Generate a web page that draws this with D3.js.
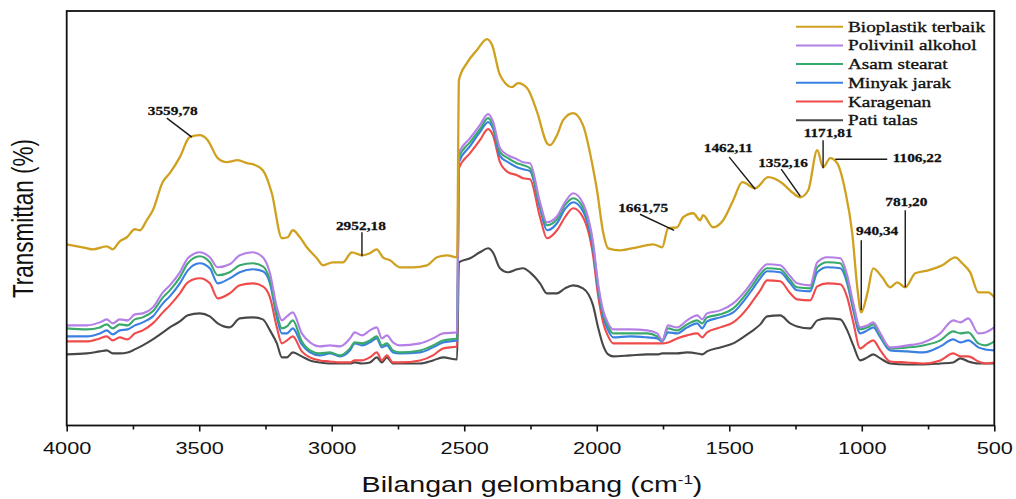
<!DOCTYPE html>
<html lang="id">
<head>
<meta charset="utf-8">
<title>FTIR bioplastik</title>
<script src="https://cdn.jsdelivr.net/npm/d3@7"></script>
<style>
  body { margin: 0; background: #fff; }
  svg { display: block; }
</style>
</head>
<body>
<script>

// wavenumber grid (cm-1) shared by the five lower spectra
var wavenumbers = [4000,3924,3875,3849,3826,3800,3770,3743,3713,3675, 3637,3611,3573,3543,3498,3460,3430,3385,3347,3298,
  3260,3233,3207,3188,3169,3147,3113,3082,3045,3007, 2969,2931,2913,2886,2856,2830,2811,2792,2769,2743,
  2667,2618,2580,2527, 2520,2478,2441,2410,2392,2365, 2335,2301,2278,2252,2214,2188,2150,2120,2089,2052,
  2014,1995,1976,1957,1938,1874,1810,1772,1753,1731, 1697,1659,1621,1602,1584,1534,1485,1432,1410,1383,
  1357,1308,1270,1244,1195,1168,1130,1081,1055,1032, 1006,979,957,930,893,828,768,704,655,628, 598,560,534,500];

var polivinilAlkohol = [25,25,25.75,26.5,25.5,26.5,26.25,27.75,28,29.5, 33.25,35,38.25,41.75,43.25,42,39.5,40.25,42.5,43.25,
  42,38,29.5,26.25,27.25,28.25,23,20.75,19.75,20, 19.75,21.75,23.25,22.5,23.75,24.5,21.75,22.5,20.75,20,
  20.5,21.75,23,23.25, 68,71.75,75,77.75,76,69.25, 67.5,66.5,65.75,65.5,55.75,50.75,52.25,55.75,58,55.5,
  45.75,35.5,28.75,25.5,24,24,23.75,23,21.25,25, 24.5,26.25,27.5,26.5,28,28.75,30.5,34.25,36.25,38.75,
  40.25,40,37.25,35.5,35,40.75,42,41.75,37.5,30.5, 24.5,25,25.75,23,19.5,20,20.75,23,26.25,25.75, 26.75,23,23.25,24.5];

var asamStearat = [24.25,24,24.5,25.25,24.25,25.25,25,26.5,27,28.5, 32,33.75,37,40.5,42.25,40.75,37.5,38.25,40,40.5,
  39.75,36.25,28,24.25,24.75,26.25,21,18.75,18,18.25, 17.5,19.25,20.75,20.5,21.25,22.25,20,20.5,18.75,18.25,
  18.75,20,21.25,21.75, 67,70.75,74,76.75,75,68.25, 66.75,65.5,65,64.25,55,50,51.5,55,56.75,54.5,
  45,34.75,28,24.75,23,23,23,22.25,21.25,24.25, 23.75,25.25,26.25,25.5,27,27.75,29.25,33.25,35.25,37.75,
  39.25,39,36.25,34.5,34.25,39.5,40.75,40.5,36.25,29.75, 24,24.5,25.25,22.5,19.25,19.5,20,21.25,23.5,23, 23.25,20.5,20,21];

var minyakJarak = [22.25,22.25,23,23.75,22.75,23.75,24,25,25.75,27.25, 30.5,32.25,35.5,38.75,40.5,39.25,35.5,36.75,38.25,39,
  38.5,35.5,27,23,23,24.25,20.25,18.25,17.5,18, 17.25,18.75,20.5,20,20.75,21.75,19.5,20,18.25,18,
  18.25,19.5,20.75,21.25, 65.75,69.75,73.25,75.75,74.25,67.25, 65.75,64.5,64,63.5,54.25,48.75,50.5,54,55.75,53.5,
  44,34,27.25,23.75,22,22.25,22,21.75,21,23.25, 23,24.5,25.5,24.25,26,27,28.25,32.25,34.25,36.75,
  38.5,38.25,35.5,33.75,33.5,38.25,39.5,39.25,35.5,28.75, 23,23.75,24.5,22,18.75,18.5,18.25,19.75,21.5,20.75, 21.25,19.5,19,18.75];

var karagenan = [21,21,21.75,22.25,21.25,22,21.5,23,23.75,25.5, 28.25,30,33,35.75,36.75,35.5,31.75,33,35,35.5,
  34.75,32,24.5,20.5,21.25,22.25,18.5,17,16.25,16, 15.75,15.75,16.25,16.25,17,18.25,16.25,17.5,15.75,15.75,
  16.25,17.5,19.25,19.75, 64.25,68,71.25,74,72.5,65.75, 63.25,62.5,61.75,61.5,52,46.75,48.75,52,54.25,52,
  42.5,32.5,25.75,22.25,20.5,20.5,20.5,20.5,20.5,20.75, 21.75,22.5,23,22,23.25,24.5,25.75,29.25,31.25,33.75,
  36.25,36,33,31.5,31.25,34.75,35.5,35.25,32,25.75, 19.25,20.5,21.25,18.75,16,15.75,15.5,16.25,18,17.25, 17.25,16,15.5,15.75];

var patiTalas = [17.75,18,18.5,18.75,18,18,18.25,19,20,21.5, 23.25,24.5,26,27.5,28,27.25,25.5,24.5,26.75,27,
  26.5,23.75,20.5,17,17,18.25,17.25,16.25,15.75,15.5, 15.5,15.5,15.75,15.5,15.75,17,15.75,17,15.5,15.5,
  15.5,16.25,17,16.5, 40.75,41.75,43.25,44.25,43.25,39.25, 38.25,39,39.25,38.25,35.5,33,33,34.25,35,34.25,
  30,24.5,20,17.75,17.25,17.5,17.75,17.75,18,18, 18,18.25,18,17.75,18.5,19.5,20.5,22.75,23.75,25.25,
  27.25,27.5,25.5,24.75,24.25,26.25,26.75,26.5,23.75,20, 16.25,17,17.75,16.75,15.5,15.25,15.25,15.5,15.75,16.75, 16,15.5,15.5,15.5];

// best bioplastic spectrum, own grid
var bioWave = [4000,3940,3902,3849,3826,3800,3773,3743,3724,3698, 3675,3638,3611,3573,3536,3498,3468,3430,3396,3354,
  3320,3298,3260,3226,3188,3166,3147,3120,3094,3056, 3033,2996,2958,2924,2886,2856,2830,2807,2780,2743,
  2694,2641,2603,2565,2527, 2520,2490,2452,2414,2395,2365,2320,2297,2263,2225, 2188,2176,2150,2127,2089,2052,2014,1999,1976,1957,
  1912,1848,1787,1753,1731,1697,1674,1636,1610,1599, 1561,1523,1485,1451,1402,1353,1300,1263,1232,1202,
  1168,1146,1119,1093,1063,1036,1017,1002,979,957, 923,893,866,836,798,749,696,647,621,591, 560,523,500];

var bioplastik = [45.25,44.5,44,44.75,44,46,47,49,48.75,51.25, 53.75,60.75,63,67,72,72.5,71.25,66.75,65.75,66.25,
  65.5,65.25,63.75,58,46.75,47,48.75,47,44.5,41.75, 40,40.75,40.75,43.25,42.5,43,44,42,41.25,39.5,
  39.5,40,42,42.5,42, 86.25,90.5,93.75,96.5,95,87.5,84.5,85.5,84.25,78.25, 70.5,70,72.5,76.25,78,75,64.25,58.75,48.25,44.25,
  43.75,44.5,45.25,44.5,49.25,49.5,52,53,51.25,52.5, 49.5,51.25,56.25,60.75,59.25,62,60.5,58.25,57,58.75,
  68.75,64.5,66.75,65.5,58.75,48,34.5,28.25,33,39.25, 37,34.5,35.75,34.5,38,38.75,40,42,40.5,38.25, 33.25,33.25,32];

var seriesNames = ["Bioplastik terbaik", "Polivinil alkohol", "Asam stearat", "Minyak jarak", "Karagenan", "Pati talas"];
var seriesColors = ["#cfa11f", "#b47fe6", "#3aa96c", "#3a7fe2", "#f04a4a", "#474747"];

var xTicks = [4000, 3500, 3000, 2500, 2000, 1500, 1000, 500];
var xMinorTicks = [3750, 3250, 2750, 2250, 1750, 1250, 750];

// peak labels: text anchor (wavenumber, T) and leader from (x1,y1) to (x2,y2)
var peakLabels = ["3559,78", "2952,18", "1661,75", "1462,11", "1352,16", "1171,81", "1106,22", "781,20", "940,34"];
var peakText = [[3600,77.5],[2890,48.75],[1825,53.25],[1504,68.25],[1297,64.5],[1127,72],[791,65.75],[832,54.75],[942,47.5]];
var peakLeader = [[3622,76.75,3528,72],[2886,48.25,2886,42.25],[1837,52.75,1708,48.75],[1500,67,1402,59],
  [1304,64,1232,57.25],[1146,71.25,1146,64.25],[1100,66.5,904,66.5],[836,53.75,836,34.5],[1002,46.25,1002,28.75]];

var w = 1016, h = 499;
var stretch = 1.28;

var svg = d3.select("body").append("svg")
  .attr("width", w)
  .attr("height", h);

var x = d3.scaleLinear().domain([4000, 500]).range([66.7, 994.3]);
var y = d3.scaleLinear().domain([0, 103.5]).range([425.5, 11]);

svg.append("clipPath").attr("id", "plot")
  .append("rect")
  .attr("x", x(4000)).attr("y", y(103.5))
  .attr("width", x(500) - x(4000)).attr("height", y(0) - y(103.5));

// spectra, drawn bottom series first so gold ends on top
var lowerSeries = [polivinilAlkohol, asamStearat, minyakJarak, karagenan, patiTalas];
var g = svg.append("g").attr("clip-path", "url(#plot)");

for (var i = lowerSeries.length - 1; i >= 0; i--) {
  var line = d3.line()
    .x(function(d, j) { return x(wavenumbers[j]); })
    .y(function(d) { return y(d); })
    .curve(d3.curveMonotoneX);
  g.append("path")
    .datum(lowerSeries[i])
    .attr("d", line)
    .attr("fill", "none")
    .attr("stroke", seriesColors[i + 1])
    .attr("stroke-width", 2.1)
    .attr("stroke-linejoin", "round");
}

var bioLine = d3.line()
  .x(function(d, j) { return x(bioWave[j]); })
  .y(function(d) { return y(d); })
  .curve(d3.curveMonotoneX);
g.append("path")
  .datum(bioplastik)
  .attr("d", bioLine)
  .attr("fill", "none")
  .attr("stroke", seriesColors[0])
  .attr("stroke-width", 2.3)
  .attr("stroke-linejoin", "round");

// peak annotations
peakLabels.forEach(function(lab, k) {
  var L = peakLeader[k];
  svg.append("line")
    .attr("x1", x(L[0])).attr("y1", y(L[1]))
    .attr("x2", x(L[2])).attr("y2", y(L[3]))
    .attr("stroke", "#1a1a1a")
    .attr("stroke-width", 1.4);
  svg.append("text")
    .attr("transform", "translate(" + x(peakText[k][0]) + "," + y(peakText[k][1]) + ") scale(" + stretch + ",1)")
    .attr("text-anchor", "middle")
    .style("font-family", "'Liberation Serif', 'Times New Roman', serif")
    .style("font-weight", "bold")
    .style("font-size", "12px")
    .attr("fill", "#111")
    .attr("stroke", "#111")
    .attr("stroke-width", 0.25)
    .text(lab);
});

// frame
svg.append("rect")
  .attr("x", x(4000)).attr("y", y(103.5))
  .attr("width", x(500) - x(4000)).attr("height", y(0) - y(103.5))
  .attr("fill", "none")
  .attr("stroke", "#111")
  .attr("stroke-width", 1.8);

// x axis
var axis = svg.append("g")
  .attr("transform", "translate(0," + y(0) + ")")
  .call(d3.axisBottom(x).tickValues(xTicks).tickSize(6).tickFormat(d3.format("d")));
axis.select(".domain").remove();
axis.selectAll(".tick line").attr("stroke", "#111").attr("stroke-width", 1.6);
axis.selectAll(".tick text")
  .attr("y", 28.5).attr("dy", 0)
  .attr("transform", "scale(" + stretch + ",1)")
  .attr("fill", "#111")
  .style("font-family", "'Liberation Sans', Arial, sans-serif")
  .style("font-size", "17px");

var minor = svg.append("g")
  .attr("transform", "translate(0," + y(0) + ")")
  .call(d3.axisBottom(x).tickValues(xMinorTicks).tickSize(4).tickFormat(""));
minor.select(".domain").remove();
minor.selectAll(".tick line").attr("stroke", "#111").attr("stroke-width", 1.6);

// axis titles
var xt = svg.append("text")
  .attr("transform", "translate(532,492) scale(1.3,1)")
  .attr("text-anchor", "middle")
  .style("font-family", "'Liberation Sans', Arial, sans-serif")
  .style("font-size", "22px")
  .attr("fill", "#111");
xt.append("tspan").text("Bilangan gelombang (cm");
xt.append("tspan").attr("dy", -8).style("font-size", "13px").text("-1");
xt.append("tspan").attr("dy", 8).text(")");

svg.append("text")
  .attr("transform", "translate(33,218.5) scale(1.28,1) rotate(-90)")
  .attr("text-anchor", "middle")
  .style("font-family", "'Liberation Sans', Arial, sans-serif")
  .style("font-size", "22.5px")
  .attr("fill", "#111")
  .text("Transmittan (%)");

// legend
var leg = svg.append("g");
seriesNames.forEach(function(name, k) {
  var ly = 26.7 + k * 18.7;
  leg.append("line")
    .attr("x1", 796).attr("x2", 843)
    .attr("y1", ly).attr("y2", ly)
    .attr("stroke", seriesColors[k])
    .attr("stroke-width", 2);
  leg.append("text")
    .attr("transform", "translate(848," + (ly + 5) + ") scale(1.24,1)")
    .style("font-family", "'Liberation Serif', 'Times New Roman', serif")
    .style("font-size", "15.5px")
    .attr("fill", "#111")
    .attr("stroke", "#111")
    .attr("stroke-width", 0.35)
    .text(name);
});

</script>
</body>
</html>
